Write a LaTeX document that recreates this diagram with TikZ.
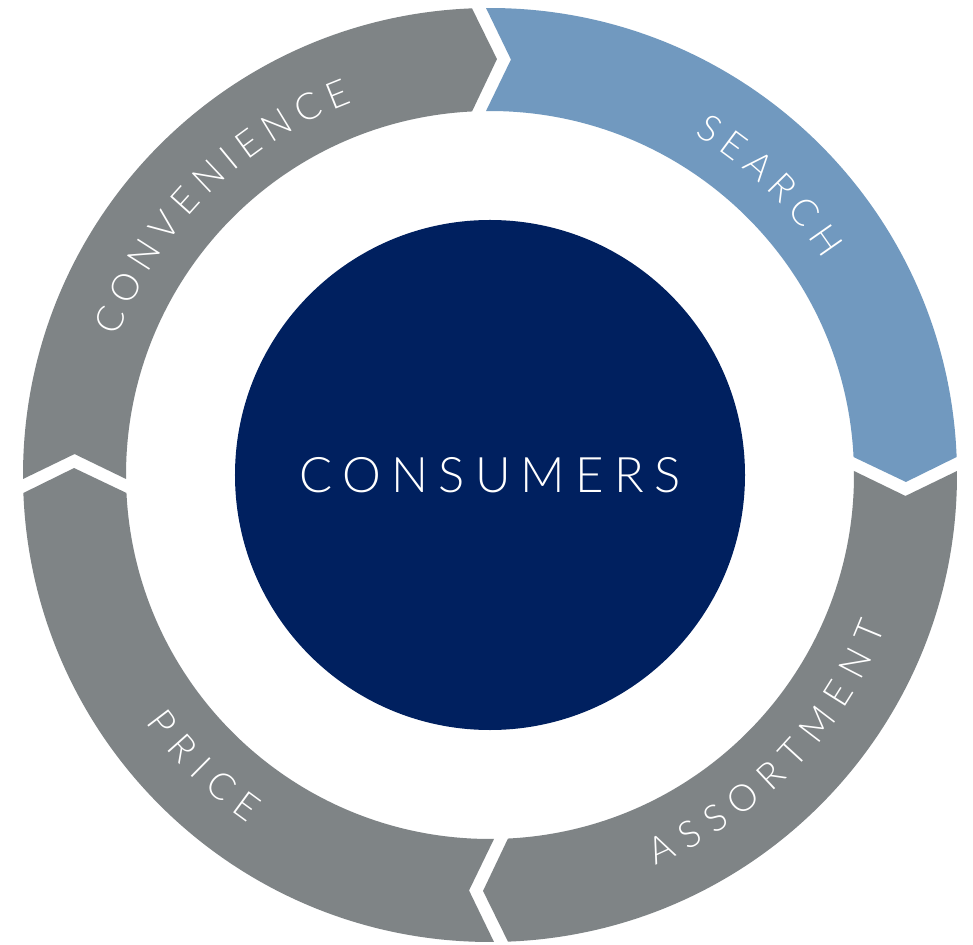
\documentclass[tikz,border=0pt]{standalone}
\usepackage{fontspec}
\usetikzlibrary{decorations.text}
\newfontfamily\ringfont{Lato Light}
\newfontfamily\centerfont[LetterSpace=21]{Lato Light}
\definecolor{ringgray}{HTML}{7F8486}
\definecolor{ringblue}{HTML}{7199BF}
\definecolor{navy}{HTML}{00205F}
\begin{document}
\begin{tikzpicture}[x=1pt,y=1pt,
  segment/.style={fill=#1, draw=none},
  ringlabel/.style={decorate, decoration={text along path, text align=center, text color=white, text={#1}}},
  corefill/.style={circle, fill=navy, minimum size=510pt, inner sep=0pt},
  coretext/.style={text=white, font=\centerfont\fontsize{49}{58}\selectfont}
]
\useasboundingbox (-490,-469) rectangle (483,475);
\fill[white] (-490,-469) rectangle (483,475);
% ring segments (same chevron shape, rotated)
\foreach \rot/\col in {0/ringblue, -90/ringgray, 180/ringgray, 90/ringgray} {
  \fill[segment=\col, rotate=\rot]
    (90.49:467pt) arc[start angle=90.49, end angle=2.21, radius=467pt]
    -- (-0.96:416pt) -- (2.83:364pt)
    arc[start angle=2.83, end angle=90.63, radius=364pt]
    -- (87.11:416pt) -- cycle;
}
% centre
\node[corefill] (core) at (0,0) {};
\node[coretext] (consumers) at (core.center) {CONSUMERS};
% ring labels
\path[ringlabel={|\ringfont\fontsize{37}{44}\selectfont|C{\kern8pt}O{\kern8pt}N{\kern8pt}V{\kern8pt}E{\kern8pt}N{\kern8pt}I{\kern8pt}E{\kern8pt}N{\kern8pt}C{\kern8pt}E}]
  (175:397pt) arc[start angle=175, end angle=95, radius=397pt];
\path[ringlabel={|\ringfont\fontsize{37}{44}\selectfont|S{\kern8pt}E{\kern8pt}A{\kern8pt}R{\kern8pt}C{\kern8pt}H}]
  (86:397pt) arc[start angle=86, end angle=6, radius=397pt];
\path[ringlabel={|\ringfont\fontsize{37}{44}\selectfont|A{\kern11pt}S{\kern11pt}S{\kern11pt}O{\kern11pt}R{\kern11pt}T{\kern11pt}M{\kern11pt}E{\kern11pt}N{\kern11pt}T}]
  (-84:424pt) arc[start angle=-84, end angle=-4, radius=424pt];
\path[ringlabel={|\ringfont\fontsize{37}{44}\selectfont|P{\kern11pt}R{\kern11pt}I{\kern11pt}C{\kern11pt}E}]
  (186:424pt) arc[start angle=186, end angle=265, radius=424pt];
\end{tikzpicture}
\end{document}
